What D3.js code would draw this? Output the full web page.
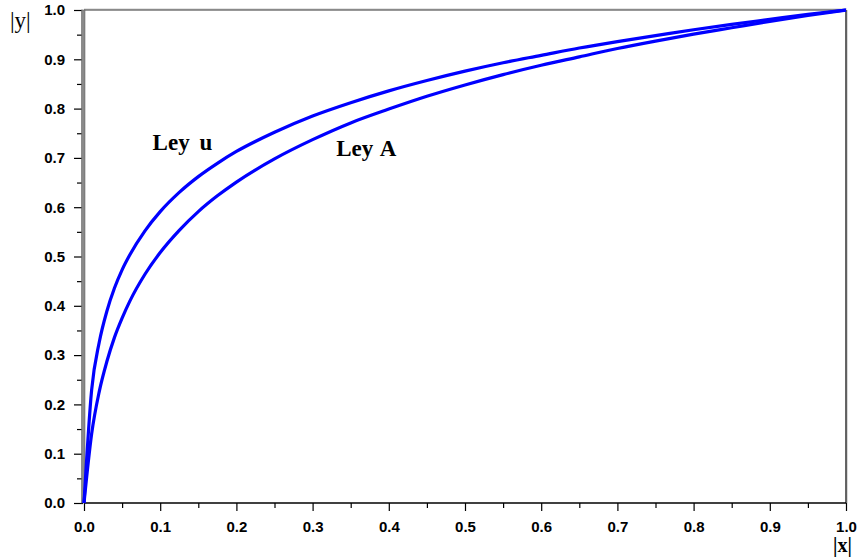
<!DOCTYPE html>
<html>
<head>
<meta charset="utf-8">
<script src="https://cdn.jsdelivr.net/npm/d3@7"></script>
<style>
  html, body { margin: 0; padding: 0; background: #fff; }
  svg { display: block; }
</style>
</head>
<body>
<svg id="chart" width="857" height="558"></svg>
<script>
// x positions (|x|) sampled along both curves
const xValues = [0, 0.01, 0.02, 0.03, 0.04, 0.05, 0.06, 0.08, 0.1, 0.125, 0.15, 0.175, 0.2,
  0.25, 0.3, 0.35, 0.4, 0.45, 0.5, 0.55, 0.6, 0.65, 0.7, 0.75, 0.8, 0.85, 0.9, 0.95, 1.0];
// |y| values read for "Ley u"
const leyU = [0, 0.229, 0.326, 0.389, 0.436, 0.473, 0.503, 0.552, 0.591, 0.630, 0.662, 0.689, 0.713,
  0.752, 0.785, 0.812, 0.836, 0.857, 0.876, 0.893, 0.908, 0.923, 0.936, 0.948, 0.960, 0.971, 0.981, 0.991, 1.0];
// |y| values read for "Ley A"
const leyA = [0, 0.140, 0.226, 0.287, 0.336, 0.375, 0.409, 0.464, 0.508, 0.553, 0.591, 0.623, 0.651,
  0.698, 0.737, 0.771, 0.799, 0.825, 0.848, 0.869, 0.888, 0.905, 0.922, 0.937, 0.951, 0.964, 0.977, 0.989, 1.0];
const majorTicks = [0, 0.1, 0.2, 0.3, 0.4, 0.5, 0.6, 0.7, 0.8, 0.9, 1.0];
const minorTicks = [0.05, 0.15, 0.25, 0.35, 0.45, 0.55, 0.65, 0.75, 0.85, 0.95];
const curveLabels = [
  { text: "Ley u", x: 0.09, y: 0.716, ws: 4 },
  { text: "Ley A", x: 0.331, y: 0.703, ws: 2 }
];

const svg = d3.select("#chart");
const mLeft = 84, mRight = 846, mTop = 10, mBottom = 503;
const x = d3.scaleLinear().domain([0, 1]).range([mLeft, mRight]);
const y = d3.scaleLinear().domain([0, 1]).range([mBottom, mTop]);
const fmt = d3.format(".1f");

// frame (top and right)
svg.append("line").attr("x1", mLeft).attr("x2", mRight + 1).attr("y1", mTop - 1).attr("y2", mTop - 1)
  .attr("stroke", "#c8c8c8").attr("stroke-width", 1);
svg.append("line").attr("x1", mLeft).attr("x2", mRight).attr("y1", mTop).attr("y2", mTop)
  .attr("stroke", "#333").attr("stroke-width", 1.2);
svg.append("line").attr("x1", mRight + 1.2).attr("x2", mRight + 1.2).attr("y1", mTop).attr("y2", mBottom)
  .attr("stroke", "#c8c8c8").attr("stroke-width", 1);
svg.append("line").attr("x1", mRight).attr("x2", mRight).attr("y1", mTop).attr("y2", mBottom)
  .attr("stroke", "#000").attr("stroke-width", 1.2);

// x axis
const xAxis = svg.append("g").attr("transform", `translate(0,${mBottom})`)
  .call(d3.axisBottom(x).tickValues(majorTicks).tickFormat(fmt).tickSize(8).tickPadding(10));
xAxis.select(".domain").attr("stroke", "#000").attr("stroke-width", 1.6).attr("d", `M${mLeft},0H${mRight}`);
xAxis.selectAll(".tick line").attr("stroke", "#000").attr("stroke-width", 1.2);
const xMinor = svg.append("g").attr("transform", `translate(0,${mBottom})`)
  .call(d3.axisBottom(x).tickValues(minorTicks).tickFormat("").tickSize(5));
xMinor.select(".domain").remove();
xMinor.selectAll(".tick line").attr("stroke", "#000").attr("stroke-width", 1.2);

// y axis
const yAxis = svg.append("g").attr("transform", `translate(${mLeft - 1},0)`)
  .call(d3.axisLeft(y).tickValues(majorTicks).tickFormat(fmt).tickSize(9).tickPadding(9));
yAxis.select(".domain").remove();
yAxis.selectAll(".tick line").attr("stroke", "#000").attr("stroke-width", 1.2);
const yMinor = svg.append("g").attr("transform", `translate(${mLeft - 1},0)`)
  .call(d3.axisLeft(y).tickValues(minorTicks).tickFormat("").tickSize(6));
yMinor.select(".domain").remove();
yMinor.selectAll(".tick line").attr("stroke", "#000").attr("stroke-width", 1.2);
// thick grey y axis bar
svg.append("rect").attr("x", mLeft - 2.5).attr("y", mTop).attr("width", 3.5).attr("height", mBottom - mTop)
  .attr("fill", "#8a8a8a").attr("stroke", "#555").attr("stroke-width", 0.5);

svg.selectAll(".tick text")
  .attr("font-family", "'Liberation Sans', Arial, sans-serif")
  .attr("font-weight", "bold").attr("font-size", 15).attr("fill", "#000");

// curves
const line = d3.line().x((d, i) => x(xValues[i])).y(d => y(d)).curve(d3.curveMonotoneX);
[leyU, leyA].forEach(series => {
  svg.append("path").datum(series).attr("d", line)
    .attr("fill", "none").attr("stroke", "#0000ff").attr("stroke-width", 3.2)
    .attr("stroke-linejoin", "round");
});

// curve labels
svg.selectAll(".clabel").data(curveLabels).enter().append("text")
  .attr("class", "clabel")
  .attr("x", d => x(d.x)).attr("y", d => y(d.y))
  .attr("font-family", "'Liberation Serif', 'Times New Roman', serif")
  .attr("font-weight", "bold").attr("font-size", 23)
  .attr("word-spacing", d => d.ws)
  .text(d => d.text);

// axis titles
svg.append("text").attr("x", 10).attr("y", 28)
  .attr("font-family", "'Liberation Serif', 'Times New Roman', serif")
  .attr("font-size", 23).text("|y|");
svg.append("text").attr("x", 833).attr("y", 552)
  .attr("font-family", "'Liberation Serif', 'Times New Roman', serif")
  .attr("font-weight", "bold").attr("font-size", 20).text("|x|");
</script>
</body>
</html>
